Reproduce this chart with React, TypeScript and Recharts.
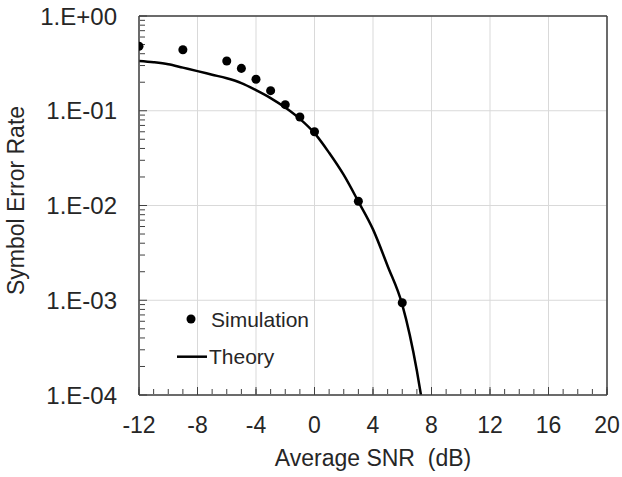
import React from 'react';
import {
  ComposedChart, Line, Scatter, XAxis, YAxis, CartesianGrid, Legend, Label,
} from 'recharts';

// simulated symbol error rate (dots)
const simSnr = [-12, -9, -6, -5, -4, -3, -2, -1, 0, 3, 6];
const simSer = [0.48, 0.44, 0.335, 0.28, 0.215, 0.163, 0.116, 0.086, 0.06, 0.0111, 0.00094];

// theoretical curve (line)
const theorySnr = [-12, -11, -10, -9, -8, -7, -6, -5, -4, -3, -2, -1, 0, 1, 2, 3, 4, 5, 6, 7, 7.28];
const theorySer = [0.335, 0.325, 0.31, 0.285, 0.262, 0.24, 0.22, 0.196, 0.165, 0.136, 0.108, 0.082, 0.058, 0.036, 0.021, 0.011, 0.0056, 0.0023, 0.0009, 0.00018, 0.0001];

const xTicks = [-12, -8, -4, 0, 4, 8, 12, 16, 20];
const xMinorTicks = Array.from({ length: 33 }, (_, i) => i - 12);
const yTicks = [0.0001, 0.001, 0.01, 0.1, 1];
const yMinorTicks = [0.0001, 0.001, 0.01, 0.1].flatMap((d) => [2, 3, 4, 5, 6, 7, 8, 9].map((m) => +(m * d).toPrecision(2)));

const simData = simSnr.map((snr, i) => ({ snr, ser: simSer[i] }));
const theoryData = theorySnr.map((snr, i) => ({ snr, ser: theorySer[i] }));

const FONT = '"Liberation Sans", Arial, sans-serif';
const TEXT = '#262626';
const AXIS = '#404040';

const fmtSci = (v: number) => {
  const e = Math.round(Math.log10(v));
  return `1.E${e >= 0 ? '+' : '-'}${String(Math.abs(e)).padStart(2, '0')}`;
};
const noLabel = () => '';

const LegendBox = () => (
  <svg width={200} height={75} style={{ display: 'block' }}>
    <circle cx={23} cy={21} r={4.5} fill="#000" />
    <text x={43} y={28.5} fontSize={21} fill={TEXT} fontFamily={FONT}>Simulation</text>
    <line x1={9} x2={39} y1={58.7} y2={58.7} stroke="#000" strokeWidth={2.5} />
    <text x={41} y={66} fontSize={21} fill={TEXT} fontFamily={FONT}>Theory</text>
  </svg>
);

export default function App() {
  return (
    <div style={{ position: 'absolute', left: 0, top: 0 }}>
      <ComposedChart
        width={622}
        height={477}
        margin={{ top: 15, right: 14, bottom: 0, left: 0 }}
        style={{ fontFamily: FONT }}
      >
        <CartesianGrid stroke="#d9d9d9" strokeWidth={1} />
        <XAxis
          dataKey="snr"
          type="number"
          domain={[-12, 20]}
          ticks={xTicks}
          allowDataOverflow
          height={82}
          tickLine={false}
          tickSize={0}
          tickMargin={22}
          axisLine={{ stroke: AXIS, strokeWidth: 1.5 }}
          tick={{ fontSize: 23, fill: TEXT }}
        >
          <Label value={'Average SNR\u00A0 (dB)'} position="insideBottom" offset={11} style={{ fontSize: 23, fill: TEXT }} />
        </XAxis>
        <XAxis xAxisId="minor" dataKey="snr" type="number" domain={[-12, 20]} ticks={xMinorTicks} interval={0} allowDataOverflow height={1}
          mirror tickFormatter={noLabel} tickSize={5} axisLine={false} stroke={AXIS} tickLine={{ stroke: AXIS, strokeWidth: 1 }} />
        <XAxis xAxisId="major" dataKey="snr" type="number" domain={[-12, 20]} ticks={xTicks} interval={0} allowDataOverflow height={1}
          mirror tickFormatter={noLabel} tickSize={8} axisLine={false} stroke={AXIS} tickLine={{ stroke: AXIS, strokeWidth: 1 }} />
        <XAxis xAxisId="top" orientation="top" type="number" domain={[-12, 20]} allowDataOverflow height={1}
          tick={false} tickLine={false} axisLine={{ stroke: AXIS, strokeWidth: 1.5 }} />
        <YAxis
          dataKey="ser"
          scale="log"
          type="number"
          domain={[0.0001, 1]}
          ticks={yTicks}
          allowDataOverflow
          width={139}
          tickLine={false}
          tickSize={0}
          tickMargin={22}
          tickFormatter={fmtSci}
          axisLine={{ stroke: AXIS, strokeWidth: 1.5 }}
          tick={{ fontSize: 24, fill: TEXT }}
        >
          <Label value="Symbol Error Rate" angle={-90} position="insideLeft" offset={16} dy={-5}
            style={{ fontSize: 23, fill: TEXT, textAnchor: 'middle' }} />
        </YAxis>
        <YAxis yAxisId="minor" dataKey="ser" scale="log" type="number" domain={[0.0001, 1]} ticks={yMinorTicks} interval={0} allowDataOverflow width={1}
          mirror tickFormatter={noLabel} tickSize={5} axisLine={false} stroke={AXIS} tickLine={{ stroke: AXIS, strokeWidth: 1 }} />
        <YAxis yAxisId="major" dataKey="ser" scale="log" type="number" domain={[0.0001, 1]} ticks={yTicks} interval={0} allowDataOverflow width={1}
          mirror tickFormatter={noLabel} tickSize={8} axisLine={false} stroke={AXIS} tickLine={{ stroke: AXIS, strokeWidth: 1 }} />
        <YAxis yAxisId="right" orientation="right" scale="log" type="number" domain={[0.0001, 1]} allowDataOverflow width={1}
          tick={false} tickLine={false} axisLine={{ stroke: AXIS, strokeWidth: 1.5 }} />
        {/* invisible carriers so the tick-only axes get a scale */}
        <Line data={theoryData} dataKey="ser" xAxisId="minor" yAxisId="minor" stroke="none" dot={false} activeDot={false} legendType="none" isAnimationActive={false} />
        <Line data={theoryData} dataKey="ser" xAxisId="major" yAxisId="major" stroke="none" dot={false} activeDot={false} legendType="none" isAnimationActive={false} />
        <Line
          data={theoryData}
          dataKey="ser"
          name="Theory"
          type="monotone"
          stroke="#000"
          strokeWidth={2.5}
          dot={false}
          activeDot={false}
          isAnimationActive={false}
        />
        <Scatter data={simData} dataKey="ser" name="Simulation" fill="#000" isAnimationActive={false} />
        <Legend
          layout="vertical"
          align="center"
          verticalAlign="middle"
          content={() => <LegendBox />}
          wrapperStyle={{ left: 168, top: 298, width: 200, height: 75 }}
        />
      </ComposedChart>
    </div>
  );
}
